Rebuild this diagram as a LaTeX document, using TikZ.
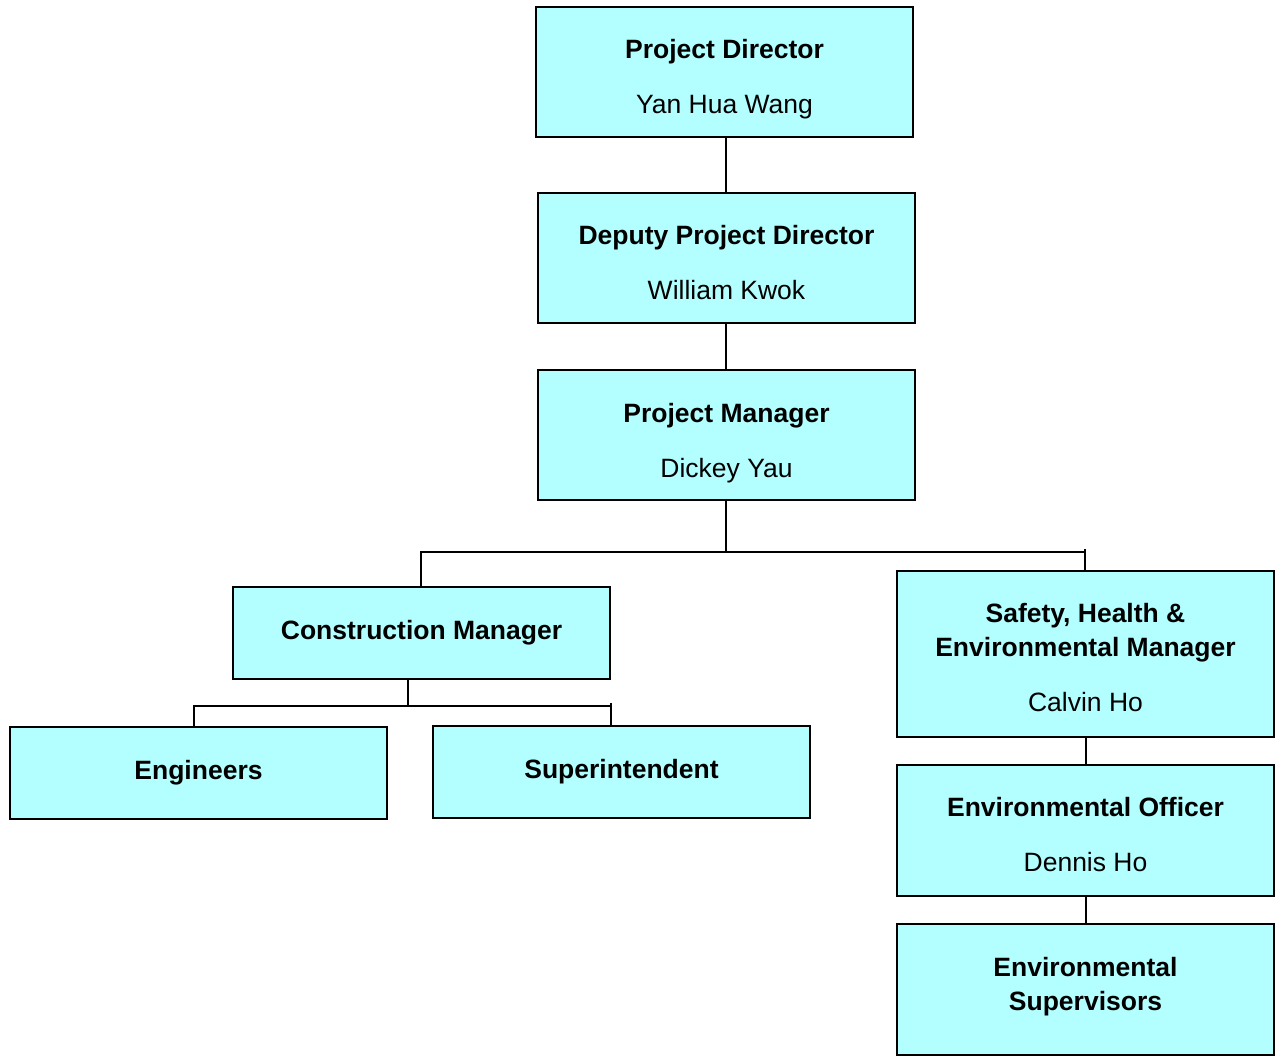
\documentclass[tikz,border=0pt]{standalone}
\usepackage{fontspec}
\setmainfont{Liberation Sans}
\definecolor{boxfill}{RGB}{179,255,255}
\begin{document}
\begin{tikzpicture}[x=1pt,y=-1pt,
  box/.style={draw=black,line width=2pt,fill=boxfill,minimum width=377pt,inner sep=0pt},
  lbl/.style={anchor=base,inner sep=0pt,font=\fontsize{26.5}{32}\selectfont},
  conn/.style={draw=black,line width=2pt}]
\useasboundingbox (0,0) rectangle (1279,1059);
% boxes
\node[box,minimum height=130pt] (pd) at (724.5,72) {};
\node[box,minimum height=130pt] (dpd) at (726.5,258) {};
\node[box,minimum height=130pt] (pm) at (726.5,435) {};
\node[box,minimum height=92pt] (cm) at (421.5,633) {};
\node[box,minimum height=166pt] (she) at (1085.5,654) {};
\node[box,minimum height=92pt] (eng) at (198.5,773) {};
\node[box,minimum height=92pt] (sup) at (621.5,772) {};
\node[box,minimum height=131pt] (eo) at (1085.5,830.5) {};
\node[box,minimum height=131pt] (es) at (1085.5,989.5) {};
% texts
\node[lbl] (pd1) at (724.5,58.5) {\textbf{Project Director}};
\node[lbl] (pd2) at (724.5,113.5) {Yan Hua Wang};
\node[lbl] (dpd1) at (726.5,244.5) {\textbf{Deputy Project Director}};
\node[lbl] (dpd2) at (726.5,299.5) {William Kwok};
\node[lbl] (pm1) at (726.5,422.5) {\textbf{Project Manager}};
\node[lbl] (pm2) at (726.5,477.5) {Dickey Yau};
\node[lbl] (cm1) at (421.5,639.5) {\textbf{Construction Manager}};
\node[lbl] (she1) at (1085.5,622.5) {\textbf{Safety, Health \&}};
\node[lbl] (she2) at (1085.5,656.5) {\textbf{Environmental Manager}};
\node[lbl] (she3) at (1085.5,711.5) {Calvin Ho};
\node[lbl] (eng1) at (198.5,779.5) {\textbf{Engineers}};
\node[lbl] (sup1) at (621.5,778.5) {\textbf{Superintendent}};
\node[lbl] (eo1) at (1085.5,816.5) {\textbf{Environmental Officer}};
\node[lbl] (eo2) at (1085.5,871.5) {Dennis Ho};
\node[lbl] (es1) at (1085.5,976.5) {\textbf{Environmental}};
\node[lbl] (es2) at (1085.5,1010.5) {\textbf{Supervisors}};
% connector junctions
\coordinate (j1) at (726,552);
\coordinate (j1l) at (421,552);
\coordinate (j1r) at (1085,552);
\coordinate (j1rt) at (1085,549);
\coordinate (j2) at (408,706);
\coordinate (j2l) at (194,706);
\coordinate (j2r) at (611,706);
\coordinate (j2rt) at (611,703);
% connectors
\draw[conn] (726,0 |- pd.south) -- (726,0 |- dpd.north);
\draw[conn] (726,0 |- dpd.south) -- (726,0 |- pm.north);
\draw[conn] (726,0 |- pm.south) -- (j1);
\draw[conn] (j1l |- cm.north) -- (j1l) -- (j1r);
\draw[conn] (j1rt) -- (j1r |- she.north);
\draw[conn] (j2 |- cm.south) -- (j2);
\draw[conn] (j2l |- eng.north) -- (j2l) -- (j2r);
\draw[conn] (j2rt) -- (j2r |- sup.north);
\draw[conn] (she.south) -- (eo.north);
\draw[conn] (eo.south) -- (es.north);
\end{tikzpicture}
\end{document}
